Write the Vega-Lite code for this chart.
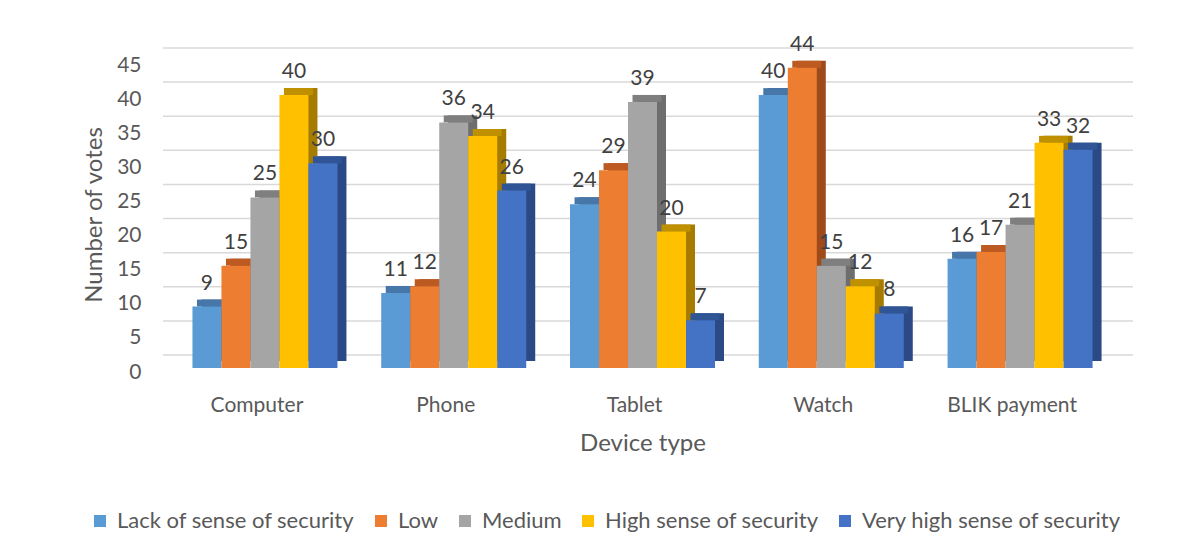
{
  "$schema": "https://vega.github.io/schema/vega-lite/v6.json",
  "width": 959,
  "height": 307,
  "autosize": {"type": "none"},
  "padding": {"left": 163, "top": 61, "right": 70, "bottom": 183},
  "background": "#ffffff",
  "config": {
    "font": "Lato",
    "view": {"stroke": null},
    "axis": {
      "labelFont": "Lato",
      "titleFont": "Lato",
      "labelColor": "#595959",
      "titleColor": "#595959",
      "labelFontSize": 21,
      "titleFontSize": 24,
      "titleFontWeight": "normal",
      "domain": false,
      "ticks": false,
      "grid": false
    },
    "axisY": {"labelOverlap": false, "tickCount": 10},
    "legend": {
      "labelFont": "Lato",
      "labelFontSize": 22,
      "labelColor": "#595959"
    }
  },
  "datasets": {
    "votes": [
      {"Device": "Computer", "Level": "Lack of sense of security", "Votes": 9},
      {"Device": "Computer", "Level": "Low", "Votes": 15},
      {"Device": "Computer", "Level": "Medium", "Votes": 25},
      {"Device": "Computer", "Level": "High sense of security", "Votes": 40},
      {"Device": "Computer", "Level": "Very high sense of security", "Votes": 30},
      {"Device": "Phone", "Level": "Lack of sense of security", "Votes": 11},
      {"Device": "Phone", "Level": "Low", "Votes": 12},
      {"Device": "Phone", "Level": "Medium", "Votes": 36},
      {"Device": "Phone", "Level": "High sense of security", "Votes": 34},
      {"Device": "Phone", "Level": "Very high sense of security", "Votes": 26},
      {"Device": "Tablet", "Level": "Lack of sense of security", "Votes": 24},
      {"Device": "Tablet", "Level": "Low", "Votes": 29},
      {"Device": "Tablet", "Level": "Medium", "Votes": 39},
      {"Device": "Tablet", "Level": "High sense of security", "Votes": 20},
      {"Device": "Tablet", "Level": "Very high sense of security", "Votes": 7},
      {"Device": "Watch", "Level": "Lack of sense of security", "Votes": 40},
      {"Device": "Watch", "Level": "Low", "Votes": 44},
      {"Device": "Watch", "Level": "Medium", "Votes": 15},
      {"Device": "Watch", "Level": "High sense of security", "Votes": 12},
      {"Device": "Watch", "Level": "Very high sense of security", "Votes": 8},
      {"Device": "BLIK payment", "Level": "Lack of sense of security", "Votes": 16},
      {"Device": "BLIK payment", "Level": "Low", "Votes": 17},
      {"Device": "BLIK payment", "Level": "Medium", "Votes": 21},
      {"Device": "BLIK payment", "Level": "High sense of security", "Votes": 33},
      {"Device": "BLIK payment", "Level": "Very high sense of security", "Votes": 32}
    ],
    "gridlines": [
      {"Votes": 0}, {"Votes": 5}, {"Votes": 10}, {"Votes": 15}, {"Votes": 20},
      {"Votes": 25}, {"Votes": 30}, {"Votes": 35}, {"Votes": 40}, {"Votes": 45}
    ]
  },
  "resolve": {"scale": {"color": "independent", "xOffset": "independent"}},
  "layer": [
    {
      "data": {"name": "gridlines"},
      "mark": {"type": "rule", "color": "#D9D9D9", "strokeWidth": 1.5, "xOffset": 11, "x2Offset": 25, "yOffset": -13},
      "encoding": {
        "y": {
          "field": "Votes", "type": "quantitative",
          "scale": {"domain": [0, 45], "nice": false},
          "axis": {"title": "Number of votes", "values": [0, 5, 10, 15, 20, 25, 30, 35, 40, 45], "tickCount": 10, "labelOverlap": false, "labelFlush": false, "labelPadding": 22, "labelOffset": 4, "titlePadding": 10}
        }
      }
    },
    {
      "data": {"name": "votes"},
      "mark": {"type": "bar", "yOffset": -7, "y2Offset": -7},
      "encoding": {
        "x": {"field": "Device", "type": "nominal", "sort": null},
        "xOffset": {"field": "Level", "type": "nominal", "sort": null, "scale": {"range": [9, 154]}},
        "y": {"field": "Votes", "type": "quantitative"},
        "color": {
          "field": "Level", "type": "nominal", "sort": null, "legend": null,
          "scale": {
            "domain": ["Lack of sense of security", "Low", "Medium", "High sense of security", "Very high sense of security"],
            "range": ["#3A6690", "#9E4A1B", "#6E6E6E", "#A67C00", "#2B4A85"]
          }
        }
      }
    },
    {
      "data": {"name": "votes"},
      "mark": {"type": "tick", "thickness": 7, "size": 29, "yOffset": -3.5, "opacity": 1},
      "encoding": {
        "x": {"field": "Device", "type": "nominal", "sort": null},
        "xOffset": {"field": "Level", "type": "nominal", "sort": null, "scale": {"range": [4.5, 149.5]}},
        "y": {"field": "Votes", "type": "quantitative"},
        "color": {
          "field": "Level", "type": "nominal", "sort": null, "legend": null,
          "scale": {
            "domain": ["Lack of sense of security", "Low", "Medium", "High sense of security", "Very high sense of security"],
            "range": ["#4677A8", "#BC5A22", "#7F7F7F", "#BF9000", "#2F5597"]
          }
        }
      }
    },
    {
      "data": {"name": "votes"},
      "mark": {"type": "bar"},
      "encoding": {
        "x": {
          "field": "Device", "type": "nominal", "sort": null,
          "scale": {"paddingInner": 0.232, "paddingOuter": 0.156},
          "axis": {"title": "Device type", "labelAngle": 0, "labelAlign": "center", "labelPadding": 37, "labelOffset": -8, "titlePadding": 16}
        },
        "xOffset": {"field": "Level", "type": "nominal", "sort": null, "scale": {"range": [0, 145]}},
        "y": {
          "field": "Votes", "type": "quantitative",
          "axis": {"title": "Number of votes", "values": [0, 5, 10, 15, 20, 25, 30, 35, 40, 45], "tickCount": 10, "labelOverlap": false, "labelFlush": false, "labelPadding": 22, "labelOffset": 4, "titlePadding": 10}
        },
        "color": {
          "field": "Level", "type": "nominal", "sort": null,
          "scale": {
            "domain": ["Lack of sense of security", "Low", "Medium", "High sense of security", "Very high sense of security"],
            "range": ["#5B9BD5", "#ED7D31", "#A5A5A5", "#FFC000", "#4472C4"]
          },
          "legend": {
            "title": null, "orient": "none", "direction": "horizontal",
            "legendX": -74, "legendY": 449,
            "symbolType": "square", "symbolSize": 144, "symbolStrokeWidth": 0,
            "labelOffset": 6, "columnPadding": 15, "labelLimit": 0
          }
        }
      }
    },
    {
      "data": {"name": "votes"},
      "mark": {"type": "text", "baseline": "alphabetic", "dy": -17, "fontSize": 21, "color": "#404040", "font": "Lato"},
      "encoding": {
        "x": {"field": "Device", "type": "nominal", "sort": null},
        "xOffset": {"field": "Level", "type": "nominal", "sort": null, "scale": {"range": [0, 145]}},
        "y": {"field": "Votes", "type": "quantitative"},
        "text": {"field": "Votes", "type": "quantitative"}
      }
    }
  ]
}
